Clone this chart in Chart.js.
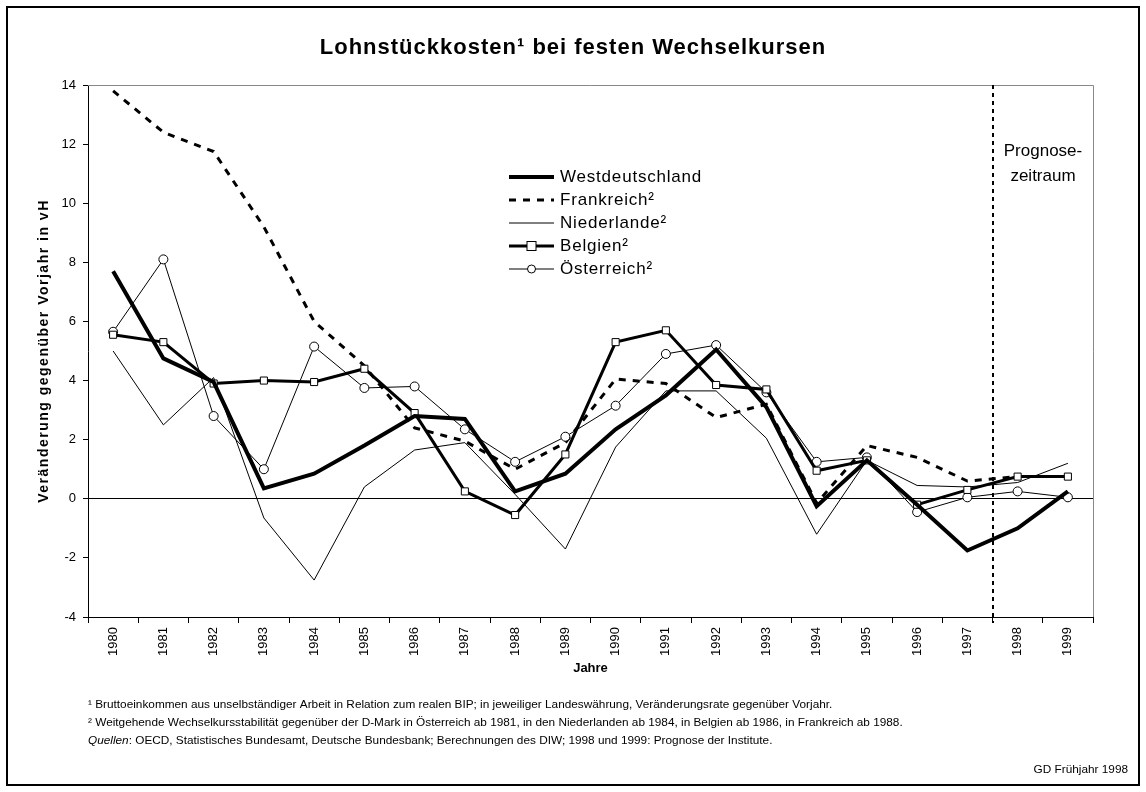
<!DOCTYPE html>
<html>
<head>
<meta charset="utf-8">
<script src="https://cdn.jsdelivr.net/npm/chart.js@4.4.0/dist/chart.umd.min.js"></script>
<style>
  html, body { margin: 0; padding: 0; background: #fff; }
  canvas { display: block; }
</style>
</head>
<body>
<canvas id="lohnChart" width="1146" height="792"></canvas>
<script>
// Daten
var years = ['1980','1981','1982','1983','1984','1985','1986','1987','1988','1989',
             '1990','1991','1992','1993','1994','1995','1996','1997','1998','1999'];
var westdeutschland = [7.7, 4.75, 3.95, 0.35, 0.85, 1.8, 2.8, 2.7, 0.25, 0.85, 2.35, 3.5, 5.05, 3.1, -0.25, 1.3, -0.2, -1.75, -1.0, 0.25];
var frankreich      = [13.8, 12.4, 11.75, 9.2, 6.0, 4.5, 2.4, 1.95, 1.0, 1.9, 4.05, 3.9, 2.75, 3.2, -0.15, 1.8, 1.4, 0.6, 0.75, 0.75];
var niederlande     = [5.0, 2.5, 4.1, -0.65, -2.75, 0.4, 1.65, 1.9, 0.15, -1.7, 1.75, 3.65, 3.65, 2.05, -1.2, 1.3, 0.45, 0.4, 0.55, 1.2];
var belgien         = [5.55, 5.3, 3.9, 4.0, 3.95, 4.4, 2.9, 0.25, -0.55, 1.5, 5.3, 5.7, 3.85, 3.7, 0.95, 1.3, -0.2, 0.3, 0.75, 0.75];
var oesterreich     = [5.65, 8.1, 2.8, 1.0, 5.15, 3.75, 3.8, 2.35, 1.25, 2.1, 3.15, 4.9, 5.2, 3.6, 1.25, 1.4, -0.45, 0.05, 0.25, 0.05];
var yMin = -4, yMax = 14, yStep = 2;
var prognoseStart = 18; // index of 1998

var titleText = 'Lohnstückkosten¹ bei festen Wechselkursen';
var yTitle = 'Veränderung gegenüber Vorjahr in vH';
var xTitle = 'Jahre';
var prognoseLabel = ['Prognose-', 'zeitraum'];
var footnotes = [
  '¹ Bruttoeinkommen aus unselbständiger Arbeit in Relation zum realen BIP; in jeweiliger Landeswährung, Veränderungsrate gegenüber Vorjahr.',
  '² Weitgehende Wechselkursstabilität gegenüber der D-Mark in Österreich ab 1981, in den Niederlanden ab 1984, in Belgien ab 1986, in Frankreich ab 1988.'
];
var sourceLabel = 'Quellen';
var sourceText = ': OECD, Statistisches Bundesamt, Deutsche Bundesbank; Berechnungen des DIW; 1998 und 1999: Prognose der Institute.';
var creditText = 'GD Frühjahr 1998';

var FONT = 'Arial, "Liberation Sans", Helvetica, sans-serif';

// Rahmen, Titel, Legende, Fußnoten
var decorations = {
  id: 'decorations',
  beforeDraw: function (chart) {
    var ctx = chart.ctx;
    ctx.save();
    ctx.fillStyle = '#fff';
    ctx.fillRect(0, 0, chart.width, chart.height);
    ctx.restore();
  },
  afterDraw: function (chart) {
    var ctx = chart.ctx;
    var area = chart.chartArea;
    var x = chart.scales.x;
    ctx.save();

    // outer frame
    ctx.strokeStyle = '#000';
    ctx.lineWidth = 2;
    ctx.strokeRect(7, 7, chart.width - 14, chart.height - 14);

    // top + right plot border (grey)
    ctx.strokeStyle = '#888';
    ctx.lineWidth = 1;
    ctx.beginPath();
    ctx.moveTo(area.left, area.top + 0.5);
    ctx.lineTo(area.right + 0.5, area.top + 0.5);
    ctx.lineTo(area.right + 0.5, area.bottom);
    ctx.stroke();

    // Prognose line
    var px = Math.round((x.getPixelForValue(prognoseStart - 1) + x.getPixelForValue(prognoseStart)) / 2);
    ctx.strokeStyle = '#000';
    ctx.lineWidth = 2;
    ctx.setLineDash([4, 4]);
    ctx.beginPath();
    ctx.moveTo(px, area.top);
    ctx.lineTo(px, area.bottom + 6);
    ctx.stroke();
    ctx.setLineDash([]);

    ctx.fillStyle = '#000';
    ctx.textAlign = 'center';
    ctx.textBaseline = 'middle';
    ctx.font = '17px ' + FONT;
    var cx = (px + area.right) / 2;
    ctx.fillText(prognoseLabel[0], cx, 151);
    ctx.fillText(prognoseLabel[1], cx, 176);

    // title
    ctx.letterSpacing = '1px';
    ctx.font = 'bold 22px ' + FONT;
    ctx.fillText(titleText, 573, 48);

    // axis titles
    ctx.font = 'bold 13px ' + FONT;
    ctx.letterSpacing = '0px';
    ctx.fillText(xTitle, (area.left + area.right) / 2, 668);
    ctx.save();
    ctx.letterSpacing = '1.5px';
    ctx.font = 'bold 14px ' + FONT;
    ctx.translate(44, (area.top + area.bottom) / 2);
    ctx.rotate(-Math.PI / 2);
    ctx.fillText(yTitle, 0, 0);
    ctx.restore();

    // legend
    var lx = 509, lw = 45, ly = 177, lh = 23;
    chart.data.datasets.forEach(function (ds, i) {
      var yy = ly + i * lh;
      ctx.strokeStyle = '#000';
      ctx.lineWidth = ds.borderWidth;
      ctx.setLineDash(ds.borderDash || []);
      ctx.beginPath();
      ctx.moveTo(lx, yy);
      ctx.lineTo(lx + lw, yy);
      ctx.stroke();
      ctx.setLineDash([]);
      if (ds.pointRadius > 0) {
        ctx.fillStyle = '#fff';
        ctx.lineWidth = 1;
        var mx = lx + lw / 2;
        if (ds.pointStyle === 'rect') {
          ctx.fillRect(mx - 4.5, yy - 4.5, 9, 9);
          ctx.strokeRect(mx - 4.5, yy - 4.5, 9, 9);
        } else {
          ctx.beginPath();
          ctx.arc(mx, yy, 4, 0, Math.PI * 2);
          ctx.fill();
          ctx.stroke();
        }
      }
      ctx.fillStyle = '#000';
      ctx.textAlign = 'left';
      ctx.letterSpacing = '0.8px';
      ctx.font = '17px ' + FONT;
      ctx.fillText(ds.label, lx + lw + 6, yy);
      ctx.letterSpacing = '0px';
    });

    // footnotes
    ctx.font = '11.8px ' + FONT;
    ctx.textAlign = 'left';
    ctx.fillText(footnotes[0], 88, 705);
    ctx.fillText(footnotes[1], 88, 723);
    ctx.font = 'italic 11.8px ' + FONT;
    ctx.fillText(sourceLabel, 88, 741);
    var w = ctx.measureText(sourceLabel).width;
    ctx.font = '11.8px ' + FONT;
    ctx.fillText(sourceText, 88 + w, 741);
    ctx.textAlign = 'right';
    ctx.fillText(creditText, 1128, 770);

    ctx.restore();
  }
};

var ctx = document.getElementById('lohnChart');

var chartData = {
  labels: years,
  datasets: [
    { label: 'Westdeutschland', data: westdeutschland, borderColor: '#000', borderWidth: 4, pointRadius: 0, order: 1 },
    { label: 'Frankreich²', data: frankreich, borderColor: '#000', borderWidth: 3, borderDash: [7, 7], pointRadius: 0, order: 4 },
    { label: 'Niederlande²', data: niederlande, borderColor: '#000', borderWidth: 1, pointRadius: 0, order: 5 },
    { label: 'Belgien²', data: belgien, borderColor: '#000', borderWidth: 3, pointStyle: 'rect', pointRadius: 5,
      pointBackgroundColor: '#fff', pointBorderColor: '#000', pointBorderWidth: 1, order: 2 },
    { label: 'Österreich²', data: oesterreich, borderColor: '#000', borderWidth: 1, pointStyle: 'circle', pointRadius: 4.5,
      pointBackgroundColor: '#fff', pointBorderColor: '#000', pointBorderWidth: 1, order: 3 }
  ]
};

var chartOptions = {
  responsive: false,
  animation: false,
  events: [],
  layout: { padding: { top: 85, right: 53, bottom: 115, left: 0 } },
  elements: { line: { tension: 0, fill: false } },
  plugins: { legend: { display: false }, tooltip: { enabled: false }, title: { display: false } },
  scales: {
    x: {
      offset: true,
      afterFit: function (s) { s.height = 60; },
      grid: { offset: true, drawOnChartArea: false, tickLength: 6, color: '#000' },
      border: { color: '#000', width: 1 },
      ticks: { minRotation: 90, maxRotation: 90, color: '#000', padding: 4, font: { family: FONT, size: 13 } }
    },
    y: {
      min: yMin, max: yMax,
      afterFit: function (s) { s.width = 88; },
      grid: {
        drawOnChartArea: true, tickLength: 5,
        color: function (c) { return c.tick && c.tick.value === 0 ? '#000' : 'rgba(0,0,0,0)'; },
        tickColor: '#000'
      },
      border: { color: '#000', width: 1 },
      ticks: { stepSize: yStep, color: '#000', padding: 7, font: { family: FONT, size: 13 } }
    }
  }
};

var lohnChart = new Chart(ctx, {
  type: 'line',
  data: chartData,
  options: chartOptions,
  plugins: [decorations]
});
</script>
</body>
</html>
